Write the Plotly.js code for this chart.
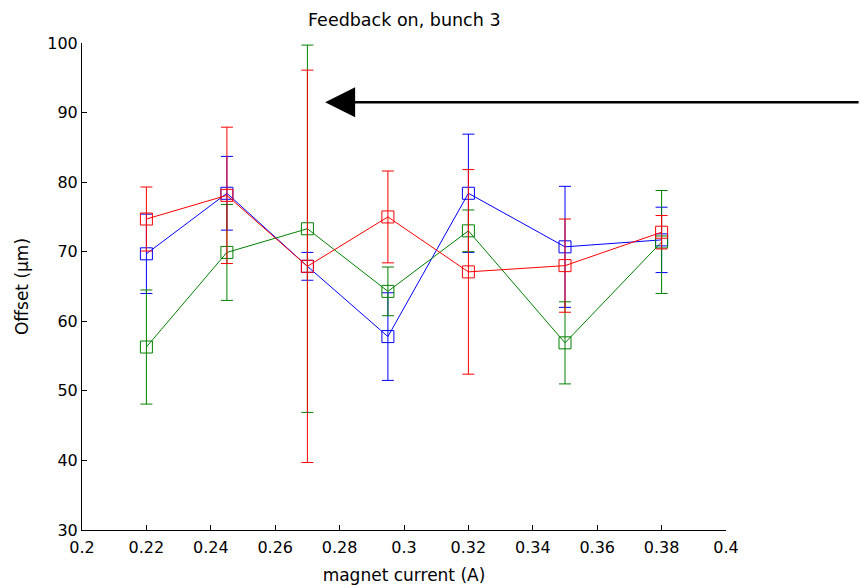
<!DOCTYPE html>
<html>
<head>
<meta charset="utf-8">
<script src="https://cdn.plot.ly/plotly-3.0.1.min.js"></script>
<style>html,body{margin:0;padding:0;background:#fff;}#chart{width:862px;height:585px;}</style>
</head>
<body>
<div id="chart"></div>
<script>
// magnet current (A)
const current = [0.22, 0.245, 0.27, 0.295, 0.32, 0.35, 0.38];

// Offset (um) and error (um) per series
const blueOffset  = [69.7, 78.4, 67.9, 57.8, 78.4, 70.7, 71.7];
const blueErr     = [5.7, 5.3, 2.0, 6.3, 8.5, 8.7, 4.7];

const greenOffset = [56.3, 69.9, 73.3, 64.3, 73.0, 56.9, 71.4];
const greenErr    = [8.2, 6.9, 26.4, 3.5, 3.0, 5.9, 7.4];

const redOffset   = [74.7, 78.1, 67.9, 75.0, 67.1, 68.0, 72.8];
const redErr      = [4.6, 9.8, 28.2, 6.6, 14.7, 6.7, 2.4];

const xTickVals = [0.2, 0.22, 0.24, 0.26, 0.28, 0.3, 0.32, 0.34, 0.36, 0.38, 0.4];
const xTickText = ["0.2", "0.22", "0.24", "0.26", "0.28", "0.3", "0.32", "0.34", "0.36", "0.38", "0.4"];
const yTickVals = [30, 40, 50, 60, 70, 80, 90, 100];

// arrow target (data coords)
const arrowX = 0.2755;
const arrowY = 91.5;

function series(y, err, color) {
  return {
    x: current, y: y, type: 'scatter', mode: 'lines+markers',
    line: {color: color, width: 1},
    marker: {symbol: 'square-open', size: 12, color: color, line: {width: 1, color: color}},
    error_y: {type: 'data', array: err, visible: true, color: color, thickness: 1, width: 6},
    showlegend: false, cliponaxis: false
  };
}

const data = [
  series(blueOffset, blueErr, '#0000ff'),
  series(greenOffset, greenErr, '#008000'),
  series(redOffset, redErr, '#ff0000')
];

const fam = 'DejaVu Sans, Arial, sans-serif';

const layout = {
  width: 862, height: 585,
  margin: {l: 82, r: 136, t: 43, b: 55},
  paper_bgcolor: '#fff', plot_bgcolor: '#fff',
  font: {family: fam, size: 16, color: '#000'},
  title: {text: 'Feedback on, bunch 3', x: 0.469, xanchor: 'center', y: 0.966, yanchor: 'middle', font: {family: fam, size: 17.5, color: '#000'}},
  xaxis: {
    range: [0.2, 0.4], tickvals: xTickVals, ticktext: xTickText,
    ticks: 'inside', ticklen: 5, tickcolor: '#000', showgrid: false, zeroline: false,
    showline: true, linecolor: '#000', linewidth: 1, mirror: false,
    ticklabelstandoff: 3,
    title: {text: 'magnet current (A)', font: {family: fam, size: 17, color: '#000'}, standoff: 12},
    tickfont: {family: fam, size: 16, color: '#000'}
  },
  yaxis: {
    range: [30, 100], tickvals: yTickVals,
    ticks: 'inside', ticklen: 5, tickcolor: '#000', showgrid: false, zeroline: false,
    showline: true, linecolor: '#000', linewidth: 1, mirror: false,
    title: {text: 'Offset (μm)', font: {family: fam, size: 17, color: '#000'}, standoff: 14},
    tickfont: {family: fam, size: 16, color: '#000'}
  },
  annotations: [{
    x: arrowX, y: arrowY, xref: 'x', yref: 'y', text: '',
    showarrow: true, ax: 535, ay: 0, axref: 'pixel', ayref: 'pixel',
    arrowhead: 2, arrowsize: 2.4, arrowwidth: 2.5, arrowcolor: '#000', standoff: 0
  }]
};

Plotly.newPlot('chart', data, layout, {displayModeBar: false, staticPlot: true});
</script>
</body>
</html>
